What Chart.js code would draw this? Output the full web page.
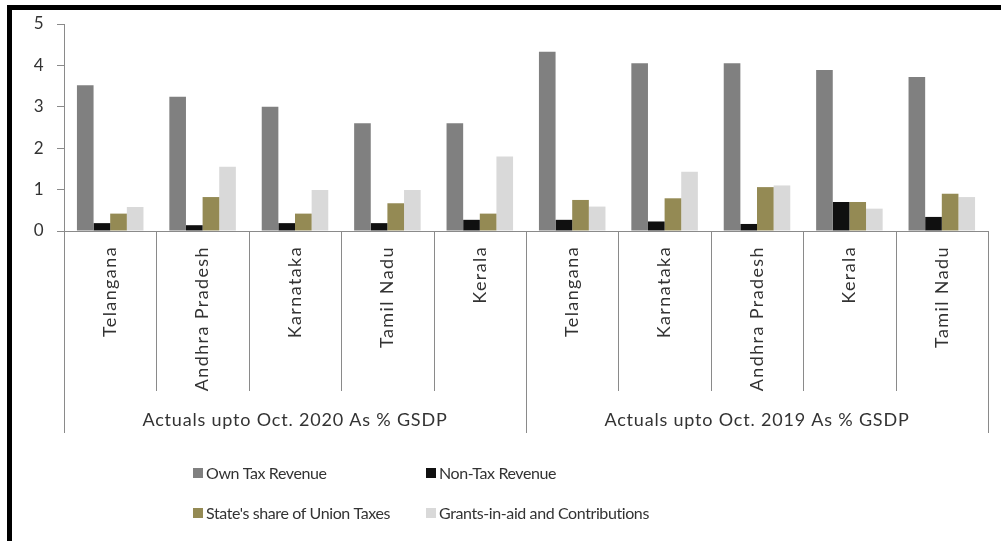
<!DOCTYPE html>
<html>
<head>
<meta charset="utf-8">
<script src="https://cdn.jsdelivr.net/npm/chart.js@4"></script>
<style>
  body { margin: 0; background: #fff; }
  #wrap { position: relative; width: 1001px; height: 541px; }
  #frame {
    position: absolute; left: 7px; top: 5px; right: 0; bottom: 0;
    border-top: 5px solid #000; border-left: 5px solid #000;
    pointer-events: none;
  }
</style>
</head>
<body>
<div id="wrap">
  <canvas id="chart" width="1001" height="541"></canvas>
  <div id="frame"></div>
</div>
<script>
const states = ["Telangana", "Andhra Pradesh", "Karnataka", "Tamil Nadu", "Kerala",
  "Telangana", "Karnataka", "Andhra Pradesh", "Kerala", "Tamil Nadu"];
const groups = ["Actuals upto Oct. 2020 As % GSDP", "Actuals upto Oct. 2019 As % GSDP"];
const groupSize = 5;

const ownTax = [3.52, 3.24, 3.0, 2.6, 2.6, 4.33, 4.05, 4.05, 3.89, 3.72];
const nonTax = [0.19, 0.14, 0.19, 0.19, 0.27, 0.27, 0.23, 0.17, 0.70, 0.34];
const unionShare = [0.42, 0.82, 0.42, 0.67, 0.42, 0.75, 0.79, 1.06, 0.70, 0.90];
const grants = [0.58, 1.55, 0.99, 0.99, 1.80, 0.59, 1.43, 1.10, 0.54, 0.82];

const yTicks = [0, 1, 2, 3, 4, 5];

const axisColor = "#8a8a8a";
const textColor = "#333333";
const fontFamily = "Lato, 'Noto Sans', sans-serif";

// wider letter spacing for the rotated state names
const spacing = {
  id: "spacing",
  beforeDraw(chart) { chart.ctx.letterSpacing = "1.4px"; },
  afterDraw(chart) { chart.ctx.letterSpacing = "0px"; }
};

// draws the two-level category axis and the legend
const groupAxis = {
  id: "groupAxis",
  afterDraw(chart) {
    const ctx = chart.ctx;
    const x = chart.scales.x;
    const area = chart.chartArea;
    const step = x.getPixelForTick(1) - x.getPixelForTick(0);

    ctx.save();
    ctx.strokeStyle = axisColor;
    ctx.lineWidth = 1;
    for (let i = 0; i <= states.length; i++) {
      const px = Math.round(x.getPixelForTick(0) - step / 2 + i * step) + 0.5;
      const long = i % groupSize === 0;
      ctx.beginPath();
      ctx.moveTo(px, area.bottom);
      ctx.lineTo(px, long ? 433 : 391);
      ctx.stroke();
    }

    ctx.fillStyle = textColor;
    ctx.font = "18px " + fontFamily;
    ctx.letterSpacing = "0.8px";
    ctx.textAlign = "center";
    ctx.textBaseline = "middle";
    groups.forEach((g, gi) => {
      const left = x.getPixelForTick(gi * groupSize) - step / 2;
      const right = left + groupSize * step;
      ctx.fillText(g, (left + right) / 2, 420);
    });

    // legend, two columns
    const ds = chart.data.datasets;
    const cols = [193, 426];
    const rows = [473, 513];
    ctx.font = "16px " + fontFamily;
    ctx.letterSpacing = "-0.4px";
    ctx.textAlign = "left";
    ds.forEach((d, i) => {
      const cx = cols[i % 2];
      const cy = rows[Math.floor(i / 2)];
      ctx.fillStyle = d.backgroundColor;
      ctx.fillRect(cx, cy - 5, 10, 10);
      ctx.fillStyle = textColor;
      ctx.fillText(d.label, cx + 13, cy + 1);
    });
    ctx.restore();
  }
};

new Chart(document.getElementById("chart"), {
  type: "bar",
  data: {
    labels: states,
    datasets: [
      { label: "Own Tax Revenue", data: ownTax, backgroundColor: "#808080" },
      { label: "Non-Tax Revenue", data: nonTax, backgroundColor: "#101010" },
      { label: "State's share of Union Taxes", data: unionShare, backgroundColor: "#948a54" },
      { label: "Grants-in-aid and Contributions", data: grants, backgroundColor: "#d9d9d9" }
    ]
  },
  options: {
    responsive: false,
    animation: false,
    layout: { padding: { top: 24, right: 13, left: 0, bottom: 0 } },
    datasets: { bar: { categoryPercentage: 0.72, barPercentage: 1.0 } },
    plugins: { legend: { display: false }, tooltip: { enabled: false } },
    scales: {
      x: {
        grid: { display: false, drawTicks: false },
        border: { display: true, color: axisColor },
        ticks: {
          autoSkip: false, minRotation: 90, maxRotation: 90, padding: 15,
          color: textColor, font: { family: fontFamily, size: 18 }
        },
        afterFit(s) { s.height = 310; }
      },
      y: {
        min: 0, max: 5,
        afterBuildTicks(s) { s.ticks = yTicks.map(v => ({ value: v })); },
        grid: { drawOnChartArea: false, drawTicks: true, tickLength: 7, color: axisColor },
        border: { color: axisColor },
        ticks: { padding: 12, color: textColor, font: { family: fontFamily, size: 17 } },
        afterFit(s) { s.width = 64; }
      }
    }
  },
  plugins: [spacing, groupAxis]
});
</script>
</body>
</html>
